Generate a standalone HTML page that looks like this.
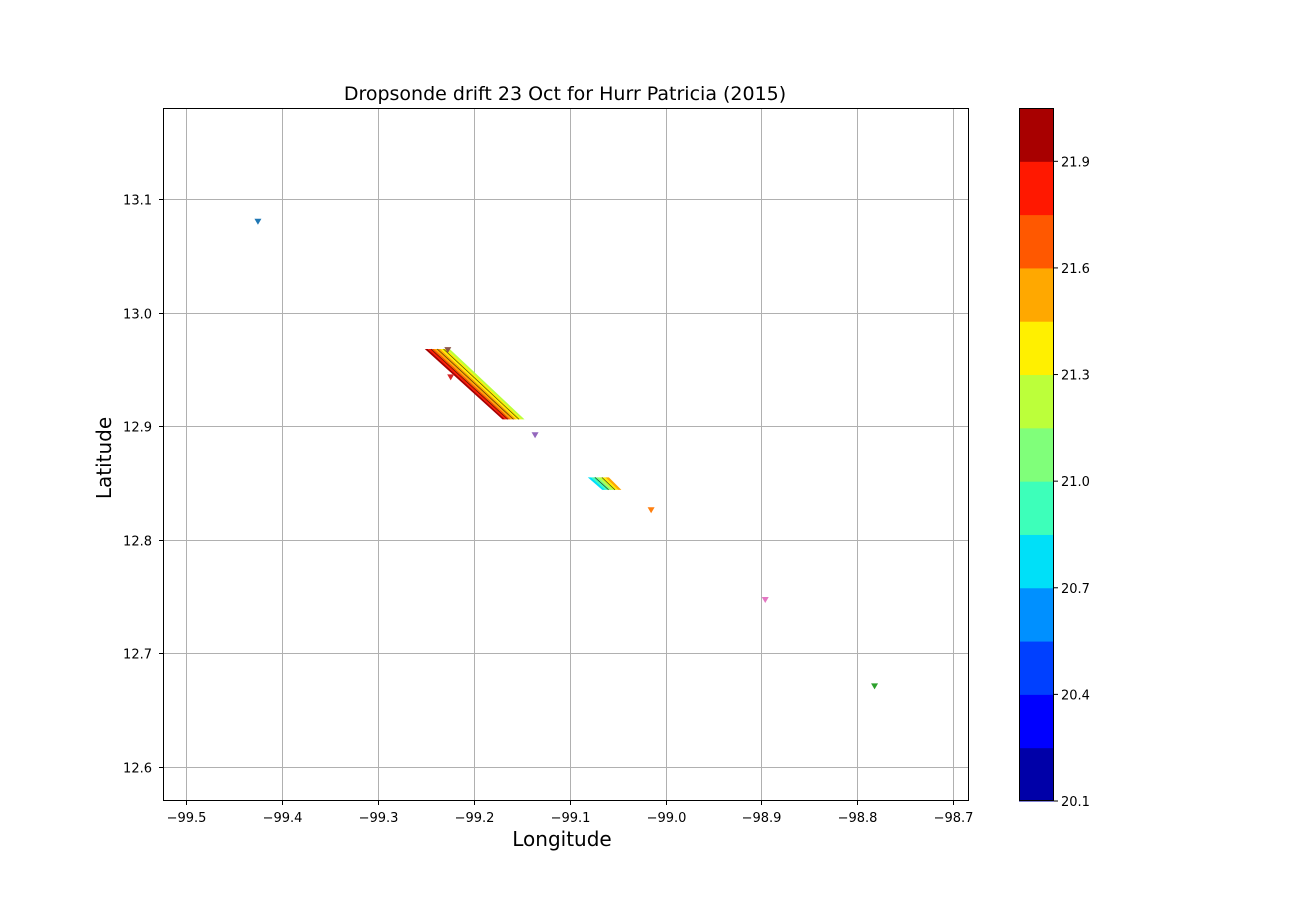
<!DOCTYPE html>
<html><head><meta charset="utf-8"><style>
body{margin:0;background:#fff;}
svg text{font-family:"DejaVu Sans","Liberation Sans",sans-serif;}
</style></head><body>
<svg id="chart" width="1300" height="900" xmlns="http://www.w3.org/2000/svg">
<rect width="1300" height="900" fill="#fff"/>
<text x="565" y="100" font-size="19" text-anchor="middle">Dropsonde drift 23 Oct for Hurr Patricia (2015)</text>
<g id="grid"></g>
<g id="bands"></g>
<g id="markers"></g>
<rect x="163.5" y="108.5" width="805" height="692" fill="none" stroke="#000" stroke-width="1"/>
<g id="xticks"></g>
<g id="yticks"></g>
<text x="562" y="846" font-size="20" text-anchor="middle">Longitude</text>
<text x="111" y="458" font-size="20" text-anchor="middle" transform="rotate(-90 111 458)">Latitude</text>
<g id="cbar"></g>
</svg>
<script>
const xTicks=[-99.5,-99.4,-99.3,-99.2,-99.1,-99.0,-98.9,-98.8,-98.7];
const yTicks=[12.6,12.7,12.8,12.9,13.0,13.1];
const sondeLon=[-99.425,-99.227,-99.224,-99.136,-99.015,-98.896,-98.782];
const sondeLat=[13.080,12.967,12.943,12.892,12.826,12.747,12.671];
const sondeColors=["#1f77b4","#8c564b","#d62728","#9467bd","#ff7f0e","#e377c2","#2ca02c"];
const cbLevels=[20.1,20.25,20.4,20.55,20.7,20.85,21.0,21.15,21.3,21.45,21.6,21.75,21.9,22.05];
const cbTicks=[20.1,20.4,20.7,21.0,21.3,21.6,21.9];
const cbColors=["#0000a8","#0000ff","#0040ff","#0090ff","#00e0f8","#3dffba","#80ff7a","#bcff3a","#fff000","#ffa800","#ff5800","#ff1800","#a80000"];
const band1=[12.968,-99.251,-99.225,12.906,-99.17,-99.147];
const band1Colors=["#a80000","#ff1800","#ff5800","#ffa800","#ffa800","#fff000","#fff000","#bcff3a"];
const band2=[12.855,-99.081,-99.059,12.844,-99.066,-99.046];
const band2Colors=["#00e0f8","#3dffba","#80ff7a","#bcff3a","#fff000","#ffa800"];
const X=v=>186+(v+99.5)*959;
const Y=v=>767-(v-12.6)*1136;
const ns="http://www.w3.org/2000/svg";
function mk(t,a,p){const e=document.createElementNS(ns,t);for(const k in a)e.setAttribute(k,a[k]);p.appendChild(e);return e;}
const grid=document.getElementById('grid'),xt=document.getElementById('xticks'),yt=document.getElementById('yticks');
xTicks.forEach(v=>{const x=Math.round(X(v))+0.5;
 const g=mk('line',{x1:x,x2:x,y1:108,y2:801,stroke:'#b0b0b0','stroke-width':1},grid);
 
 
 mk('line',{x1:x,x2:x,y1:801,y2:805,stroke:'#000'},xt);
 const t=mk('text',{x:x,y:822,'font-size':13,'text-anchor':'middle'},xt);t.textContent='\u2212'+Math.abs(v).toFixed(1);
 
 });
yTicks.forEach(v=>{const y=Math.round(Y(v))+0.5;
 const g=mk('line',{x1:163,x2:969,y1:y,y2:y,stroke:'#b0b0b0','stroke-width':1},grid);
 
 
 mk('line',{x1:159,x2:163,y1:y,y2:y,stroke:'#000'},yt);
 const t=mk('text',{x:152,y:y+5,'font-size':13,'text-anchor':'end'},yt);t.textContent=v.toFixed(1);
 
 });
const bands=document.getElementById('bands');
function band(b,cols,name){const n=cols.length;const yT=Y(b[0]),yB=Y(b[3]);
 for(let i=0;i<n;i++){const f0=i/n,f1=(i+1)/n;
  const tl=X(b[1])+(X(b[2])-X(b[1]))*f0,tr=X(b[1])+(X(b[2])-X(b[1]))*f1;
  const bl=X(b[4])+(X(b[5])-X(b[4]))*f0,br=X(b[4])+(X(b[5])-X(b[4]))*f1;
  const p=mk('polygon',{points:`${tl},${yT} ${tr},${yT} ${br},${yB} ${bl},${yB}`,fill:cols[i]},bands);
  
  
  if(i>0&&i%2==0){mk('line',{x1:tl,y1:yT,x2:bl,y2:yB,stroke:'#000','stroke-width':0.7,'stroke-opacity':0.7},bands);}}}
band(band1,band1Colors,'band1');band(band2,band2Colors,'band2');
const mg=document.getElementById('markers');
sondeLon.forEach((lo,i)=>{const x=X(lo),y=Y(sondeLat[i]);
 const m=mk('polygon',{points:`${x-3.5},${y-3} ${x+3.5},${y-3} ${x},${y+3}`,fill:sondeColors[i]},mg);
 
 });
const cb=document.getElementById('cbar');
const CY=v=>801-(v-20.1)*(693/1.95);
cbColors.forEach((c,i)=>{const y1=CY(cbLevels[i+1]),y0=CY(cbLevels[i]);
 const r=mk('rect',{x:1019,y:y1,width:35,height:y0-y1+0.5,fill:c},cb);
 
 });
mk('rect',{x:1019.5,y:108.5,width:34,height:692,fill:'none',stroke:'#000'},cb);
cbTicks.forEach(v=>{const y=CY(v);
 mk('line',{x1:1054,x2:1058,y1:y,y2:y,stroke:'#000'},cb);
 const t=mk('text',{x:1061,y:y+5,'font-size':13},cb);t.textContent=v.toFixed(1);
 
 });
</script>
</body></html>
